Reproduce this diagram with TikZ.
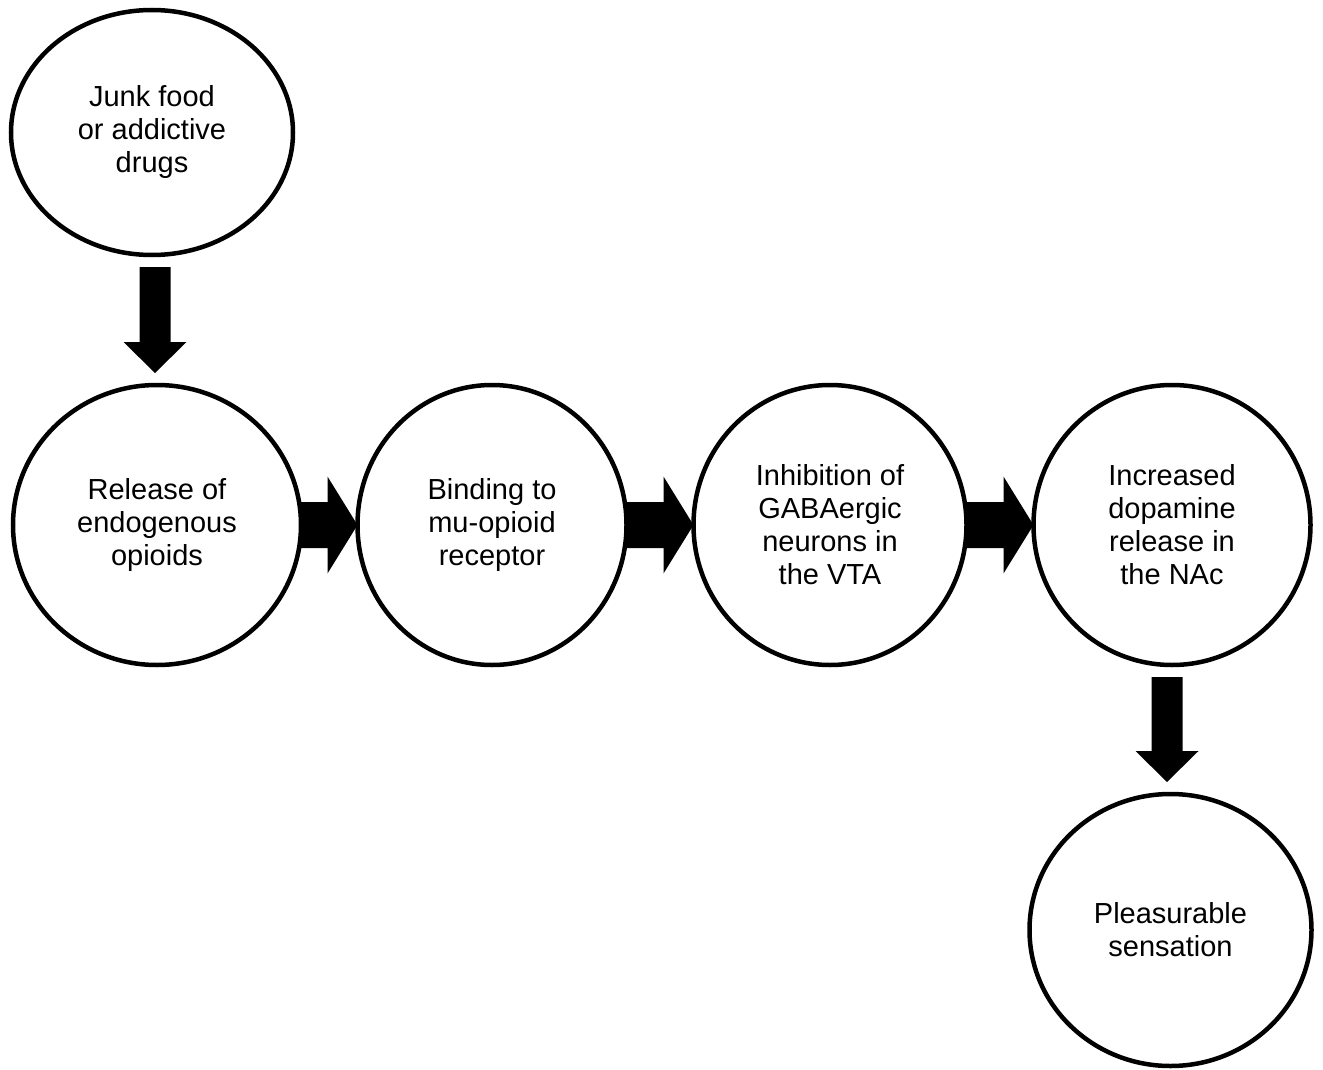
\documentclass[tikz,border=0pt]{standalone}
\usepackage{fontspec}
\setmainfont{Liberation Sans}
\usetikzlibrary{shapes.geometric,calc}
\pgfdeclarelayer{bg}
\pgfsetlayers{bg,main}
\newcommand\harrowblk[2]{%
  \fill[black] let \p1=(#1.east), \p2=(#2.west) in
    (\x1-4pt,\y2+23pt) -- (\x2-30pt,\y2+23pt) -- (\x2-30pt,\y2+48.5pt) --
    (\x2,\y2) -- (\x2-30pt,\y2-48.5pt) -- (\x2-30pt,\y2-23pt) --
    (\x1-4pt,\y2-23pt) -- cycle;}
\newcommand\varrowblk[3]{%
  \fill[black] let \p1=(#1.south), \p2=(#2.north) in
    (#3pt-15.5pt,\y1-12pt) -- (#3pt+15.5pt,\y1-12pt) -- (#3pt+15.5pt,\y2+43pt) --
    (#3pt+31.5pt,\y2+43pt) -- (#3pt,\y2+12pt) -- (#3pt-31.5pt,\y2+43pt) --
    (#3pt-15.5pt,\y2+43pt) -- cycle;}
\begin{document}
\begin{tikzpicture}[x=1pt,y=-1pt,
  bubble/.style={ellipse, draw=black, line width=4.5pt, fill=white,
    inner sep=0pt, outer sep=0pt, align=center,
    font=\fontsize{29pt}{33pt}\selectfont}]
\useasboundingbox (0,0) rectangle (1323,1070);
\node[bubble, minimum width=282pt, minimum height=245pt] (e1) at (152,132.5) {Junk food\\or addictive\\drugs};
\node[bubble, minimum width=288pt, minimum height=280pt] (e2) at (157,525) {Release of\\endogenous\\opioids};
\node[bubble, minimum width=269pt, minimum height=280pt] (e3) at (492,525) {Binding to\\mu-opioid\\receptor};
\node[bubble, minimum width=273pt, minimum height=280pt] (e4) at (830,525) {Inhibition of\\GABAergic\\neurons in\\the VTA};
\node[bubble, minimum width=277pt, minimum height=280pt] (e5) at (1172,525) {Increased\\dopamine\\release in\\the NAc};
\node[bubble, minimum width=282pt, minimum height=272pt] (e6) at (1170.5,930) {Pleasurable\\sensation};
\begin{pgfonlayer}{bg}
\varrowblk{e1}{e2}{155}
\harrowblk{e2}{e3}
\harrowblk{e3}{e4}
\harrowblk{e4}{e5}
\varrowblk{e5}{e6}{1167}
\end{pgfonlayer}
\end{tikzpicture}
\end{document}
